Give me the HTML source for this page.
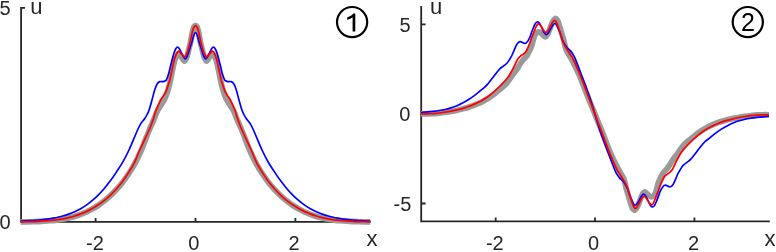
<!DOCTYPE html>
<html><head><meta charset="utf-8">
<style>
html,body{margin:0;padding:0;background:#fff;}
body{width:776px;height:252px;overflow:hidden;position:relative;font-family:"Liberation Sans",sans-serif;}
svg{position:absolute;left:0;top:0;will-change:transform;}
text{font-family:"Liberation Sans",sans-serif;fill:#262626;}
.t{font-size:20px;}
.l{font-size:22px;}
.c{font-size:25px;}
</style></head><body>
<svg width="776" height="252" viewBox="0 0 776 252">
<g stroke="#262626" stroke-width="1.8" fill="none" stroke-linecap="butt">
<path d="M21.1,7 V221.9 M20.2,221.9 H370.6"/>
<path d="M21.1,7.9 H25 M95.6,221.9 V218 M195.5,221.9 V218 M295.4,221.9 V218"/>
<path d="M421.2,6 V221.3 M420.3,221.3 H769.8"/>
<path d="M421.2,24.4 H425.6 M421.2,203.5 H425.6 M421.2,113.8 H425.6 M495.7,221.3 V217.4 M595,221.3 V217.4 M694.4,221.3 V217.4"/>
</g>
<g fill="none" stroke-linejoin="round" stroke-linecap="butt">
<path d="M20.7,221.8C21.7,221.8 24.7,221.8 26.7,221.8C28.7,221.7 30.7,221.7 32.7,221.7C34.7,221.6 36.7,221.6 38.7,221.5C40.7,221.4 42.7,221.3 44.7,221.2C46.7,221.1 48.7,220.9 50.7,220.7C52.7,220.6 54.7,220.4 56.7,220.1C58.7,219.9 60.7,219.6 62.7,219.2C64.7,218.9 66.7,218.5 68.7,218.0C70.7,217.5 72.7,217.0 74.7,216.4C76.7,215.8 78.7,215.2 80.7,214.4C82.7,213.6 84.7,212.8 86.7,211.9C88.7,210.9 90.7,209.9 92.7,208.8C94.7,207.6 96.7,206.4 98.7,205.0C100.7,203.7 102.7,202.2 104.7,200.6C106.7,199.0 108.7,197.3 110.7,195.4C112.7,193.5 114.7,191.5 116.7,189.3C118.7,187.1 120.7,184.8 122.7,182.2C124.7,179.6 126.7,176.9 128.7,173.8C130.7,170.7 132.6,167.8 134.7,163.9C136.8,159.9 139.0,155.6 141.4,150.0C143.8,144.4 147.2,135.0 149.3,130.0C151.4,125.0 152.3,123.3 153.7,120.0C155.1,116.7 156.1,113.3 157.8,110.0C159.6,106.7 162.5,103.3 164.2,100.0C165.9,96.7 166.9,93.3 168.0,90.0C169.1,86.7 169.8,83.3 170.5,80.0C171.2,76.7 171.8,73.2 172.5,70.0C173.2,66.8 173.9,63.3 174.6,61.0C175.3,58.7 175.9,57.2 176.6,56.0C177.3,54.8 178.2,53.8 179.0,54.0C179.8,54.2 180.6,55.8 181.5,57.0C182.4,58.2 183.6,61.1 184.5,61.0C185.4,60.9 186.3,58.5 187.0,56.5C187.7,54.5 188.3,51.4 188.9,49.0C189.5,46.6 190.0,45.0 190.6,42.0C191.2,39.0 192.1,33.6 192.7,31.0C193.3,28.4 193.7,27.4 194.2,26.5C194.7,25.6 195.1,25.3 195.5,25.3C195.9,25.3 196.3,25.6 196.8,26.5C197.3,27.4 197.7,28.4 198.3,31.0C198.9,33.6 199.8,39.0 200.4,42.0C201.0,45.0 201.5,46.6 202.1,49.0C202.7,51.4 203.3,54.5 204.0,56.5C204.7,58.5 205.6,60.9 206.5,61.0C207.4,61.1 208.6,58.2 209.5,57.0C210.4,55.8 211.2,54.2 212.0,54.0C212.8,53.8 213.7,54.8 214.4,56.0C215.1,57.2 215.7,58.7 216.4,61.0C217.1,63.3 217.8,66.8 218.5,70.0C219.2,73.2 219.8,76.7 220.5,80.0C221.2,83.3 221.9,86.7 223.0,90.0C224.1,93.3 225.1,96.7 226.8,100.0C228.5,103.3 231.4,106.7 233.2,110.0C234.9,113.3 235.9,116.7 237.3,120.0C238.7,123.3 239.6,125.0 241.7,130.0C243.8,135.0 247.2,144.4 249.6,150.0C252.0,155.6 254.2,159.9 256.3,163.9C258.4,167.8 260.3,170.7 262.3,173.8C264.3,176.9 266.3,179.6 268.3,182.2C270.3,184.8 272.3,187.1 274.3,189.3C276.3,191.5 278.3,193.5 280.3,195.4C282.3,197.3 284.3,199.0 286.3,200.6C288.3,202.2 290.3,203.7 292.3,205.0C294.3,206.4 296.3,207.6 298.3,208.8C300.3,209.9 302.3,210.9 304.3,211.9C306.3,212.8 308.3,213.6 310.3,214.4C312.3,215.2 314.3,215.8 316.3,216.4C318.3,217.0 320.3,217.5 322.3,218.0C324.3,218.5 326.3,218.9 328.3,219.2C330.3,219.6 332.3,219.9 334.3,220.1C336.3,220.4 338.3,220.6 340.3,220.7C342.3,220.9 344.3,221.1 346.3,221.2C348.3,221.3 350.3,221.4 352.3,221.5C354.3,221.6 356.3,221.6 358.3,221.7C360.3,221.7 362.3,221.7 364.3,221.8C366.3,221.8 369.3,221.8 370.3,221.8" stroke="#999999" stroke-width="5.8"/>
<path d="M20.7,221.1C21.7,221.1 24.7,221.0 26.7,220.9C28.7,220.8 30.7,220.6 32.7,220.5C34.7,220.4 36.7,220.2 38.7,220.0C40.7,219.8 42.7,219.6 44.7,219.4C46.7,219.2 48.7,218.9 50.7,218.6C52.7,218.2 54.7,217.9 56.7,217.5C58.7,217.0 60.7,216.6 62.7,216.0C64.7,215.5 66.7,214.9 68.7,214.1C70.7,213.4 72.7,212.6 74.7,211.7C76.7,210.8 78.7,209.8 80.7,208.7C82.7,207.6 84.7,206.3 86.7,204.9C88.7,203.5 90.7,202.0 92.7,200.2C94.7,198.5 96.7,196.7 98.7,194.6C100.7,192.6 102.7,190.4 104.7,188.0C106.7,185.6 108.7,183.0 110.7,180.3C112.7,177.6 114.7,174.7 116.7,171.6C118.7,168.6 120.7,165.8 122.7,162.2C124.8,158.6 126.5,155.4 129.0,150.0C131.5,144.6 135.6,134.4 137.6,130.0C139.5,125.6 139.7,125.4 140.9,123.5C142.1,121.6 143.5,120.3 144.6,118.7C145.7,117.1 146.7,115.5 147.4,114.0C148.2,112.5 148.3,112.3 149.1,110.0C149.9,107.7 151.1,103.3 152.0,100.0C152.9,96.7 153.8,92.7 154.7,90.0C155.5,87.3 156.2,85.4 157.1,84.0C157.9,82.6 158.8,82.0 159.8,81.6C160.8,81.2 162.1,81.8 163.0,81.7C163.9,81.6 164.8,81.2 165.4,80.8C166.0,80.4 165.9,80.8 166.5,79.6C167.1,78.4 168.1,75.6 168.7,73.5C169.3,71.4 169.7,69.2 170.2,67.1C170.7,65.0 171.2,63.4 171.8,61.0C172.4,58.6 173.3,55.0 174.0,53.0C174.7,51.0 175.2,49.8 175.8,48.8C176.4,47.8 176.9,47.2 177.5,47.2C178.1,47.2 178.8,47.9 179.5,49.0C180.2,50.1 181.1,52.4 182.0,54.0C182.9,55.6 184.2,58.6 185.2,58.8C186.1,59.0 187.0,56.6 187.7,55.0C188.4,53.4 188.9,51.2 189.6,49.0C190.3,46.8 191.2,44.3 191.9,42.0C192.6,39.7 193.2,36.9 193.8,35.3C194.4,33.7 194.9,32.5 195.5,32.5C196.1,32.5 196.6,33.7 197.2,35.3C197.8,36.9 198.4,39.7 199.1,42.0C199.8,44.3 200.7,46.8 201.4,49.0C202.1,51.2 202.6,53.4 203.3,55.0C204.0,56.6 204.9,59.0 205.8,58.8C206.8,58.6 208.1,55.6 209.0,54.0C209.9,52.4 210.8,50.1 211.5,49.0C212.2,47.9 212.9,47.2 213.5,47.2C214.1,47.2 214.6,47.8 215.2,48.8C215.8,49.8 216.3,51.0 217.0,53.0C217.7,55.0 218.6,58.6 219.2,61.0C219.8,63.4 220.3,65.0 220.8,67.1C221.3,69.2 221.7,71.4 222.3,73.5C222.9,75.6 223.9,78.4 224.5,79.6C225.1,80.8 225.0,80.4 225.6,80.8C226.2,81.2 227.1,81.6 228.0,81.7C228.9,81.8 230.2,81.2 231.2,81.6C232.2,82.0 233.1,82.6 233.9,84.0C234.8,85.4 235.5,87.3 236.3,90.0C237.2,92.7 238.1,96.7 239.0,100.0C239.9,103.3 241.1,107.7 241.9,110.0C242.7,112.3 242.8,112.5 243.6,114.0C244.3,115.5 245.3,117.1 246.4,118.7C247.5,120.3 248.9,121.6 250.1,123.5C251.3,125.4 251.5,125.6 253.4,130.0C255.4,134.4 259.5,144.6 262.0,150.0C264.5,155.4 266.2,158.6 268.3,162.2C270.4,165.8 272.3,168.6 274.3,171.6C276.3,174.7 278.3,177.6 280.3,180.3C282.3,183.0 284.3,185.6 286.3,188.0C288.3,190.4 290.3,192.6 292.3,194.6C294.3,196.7 296.3,198.5 298.3,200.2C300.3,202.0 302.3,203.5 304.3,204.9C306.3,206.3 308.3,207.6 310.3,208.7C312.3,209.8 314.3,210.8 316.3,211.7C318.3,212.6 320.3,213.4 322.3,214.1C324.3,214.9 326.3,215.5 328.3,216.0C330.3,216.6 332.3,217.0 334.3,217.5C336.3,217.9 338.3,218.2 340.3,218.6C342.3,218.9 344.3,219.2 346.3,219.4C348.3,219.6 350.3,219.8 352.3,220.0C354.3,220.2 356.3,220.4 358.3,220.5C360.3,220.6 362.3,220.8 364.3,220.9C366.3,221.0 369.3,221.1 370.3,221.1" stroke="#0000ff" stroke-width="1.7"/>
<path d="M20.7,221.8C21.7,221.8 24.7,221.7 26.7,221.7C28.7,221.6 30.7,221.6 32.7,221.5C34.7,221.5 36.7,221.4 38.7,221.3C40.7,221.2 42.7,221.1 44.7,220.9C46.7,220.8 48.7,220.6 50.7,220.5C52.7,220.3 54.7,220.0 56.7,219.8C58.7,219.5 60.7,219.2 62.7,218.8C64.7,218.5 66.7,218.0 68.7,217.6C70.7,217.1 72.7,216.6 74.7,216.0C76.7,215.4 78.7,214.7 80.7,213.9C82.7,213.2 84.7,212.3 86.7,211.4C88.7,210.5 90.7,209.4 92.7,208.3C94.7,207.2 96.7,205.9 98.7,204.6C100.7,203.2 102.7,201.7 104.7,200.1C106.7,198.5 108.7,196.7 110.7,194.8C112.7,192.9 114.7,190.8 116.7,188.5C118.7,186.3 120.7,183.8 122.7,181.2C124.7,178.5 126.7,175.6 128.7,172.4C130.7,169.2 132.9,165.8 134.7,162.1C136.5,158.3 137.4,155.3 139.8,150.0C142.1,144.7 146.8,135.0 149.1,130.0C151.3,125.0 151.8,123.3 153.0,120.0C154.2,116.7 154.9,113.3 156.2,110.0C157.5,106.7 159.1,102.9 160.6,100.0C162.1,97.1 164.2,95.0 165.4,92.7C166.6,90.4 167.1,88.4 167.8,86.3C168.5,84.2 169.1,82.7 169.8,80.0C170.5,77.3 171.3,73.3 172.0,70.0C172.7,66.7 173.5,62.6 174.2,60.0C174.9,57.4 175.5,55.8 176.2,54.3C176.9,52.8 177.6,51.3 178.4,51.1C179.2,50.9 180.0,52.3 181.0,53.3C182.0,54.3 183.5,57.1 184.6,56.9C185.7,56.7 186.6,53.9 187.3,52.3C188.0,50.7 188.3,49.2 188.8,47.5C189.3,45.8 189.5,44.8 190.2,42.0C190.8,39.2 192.0,33.1 192.7,30.6C193.4,28.1 193.7,27.6 194.2,26.8C194.7,26.0 195.1,25.7 195.5,25.7C195.9,25.7 196.3,26.0 196.8,26.8C197.3,27.6 197.6,28.1 198.3,30.6C199.0,33.1 200.2,39.2 200.8,42.0C201.5,44.8 201.7,45.8 202.2,47.5C202.7,49.2 203.0,50.7 203.7,52.3C204.4,53.9 205.3,56.7 206.4,56.9C207.5,57.1 209.0,54.3 210.0,53.3C211.0,52.3 211.8,50.9 212.6,51.1C213.4,51.3 214.1,52.8 214.8,54.3C215.5,55.8 216.1,57.4 216.8,60.0C217.5,62.6 218.3,66.7 219.0,70.0C219.7,73.3 220.5,77.3 221.2,80.0C221.9,82.7 222.5,84.2 223.2,86.3C223.9,88.4 224.4,90.4 225.6,92.7C226.8,95.0 228.9,97.1 230.4,100.0C231.9,102.9 233.5,106.7 234.8,110.0C236.1,113.3 236.8,116.7 238.0,120.0C239.2,123.3 239.7,125.0 241.9,130.0C244.2,135.0 248.9,144.7 251.2,150.0C253.6,155.3 254.5,158.3 256.3,162.1C258.1,165.8 260.3,169.2 262.3,172.4C264.3,175.6 266.3,178.5 268.3,181.2C270.3,183.8 272.3,186.3 274.3,188.5C276.3,190.8 278.3,192.9 280.3,194.8C282.3,196.7 284.3,198.5 286.3,200.1C288.3,201.7 290.3,203.2 292.3,204.6C294.3,205.9 296.3,207.2 298.3,208.3C300.3,209.4 302.3,210.5 304.3,211.4C306.3,212.3 308.3,213.2 310.3,213.9C312.3,214.7 314.3,215.4 316.3,216.0C318.3,216.6 320.3,217.1 322.3,217.6C324.3,218.0 326.3,218.5 328.3,218.8C330.3,219.2 332.3,219.5 334.3,219.8C336.3,220.0 338.3,220.3 340.3,220.5C342.3,220.6 344.3,220.8 346.3,220.9C348.3,221.1 350.3,221.2 352.3,221.3C354.3,221.4 356.3,221.5 358.3,221.5C360.3,221.6 362.3,221.6 364.3,221.7C366.3,221.7 369.3,221.8 370.3,221.8" stroke="#ff0000" stroke-width="1.75"/>
<path d="M421.0,113.9C422.0,113.9 425.0,114.0 427.0,113.9C429.0,113.9 431.0,113.8 433.0,113.7C435.0,113.5 437.0,113.4 439.0,113.1C441.0,112.9 443.0,112.7 445.0,112.4C447.0,112.1 449.0,111.8 451.0,111.4C453.0,111.1 455.0,110.7 457.0,110.3C459.0,109.8 461.0,109.3 463.0,108.8C465.0,108.3 467.0,107.7 469.0,107.1C471.0,106.4 473.0,105.7 475.0,104.9C477.0,104.1 479.0,103.2 481.0,102.3C483.0,101.3 485.0,100.2 487.0,99.0C489.0,97.8 491.0,96.5 493.0,95.0C495.0,93.5 496.8,91.9 499.0,90.0C501.2,88.1 503.9,86.3 506.2,83.8C508.4,81.3 510.8,77.3 512.5,75.0C514.2,72.7 515.1,71.8 516.4,70.0C517.7,68.2 519.0,65.7 520.1,64.0C521.2,62.3 521.9,61.4 523.0,60.0C524.1,58.6 525.6,57.5 526.8,55.8C527.9,54.1 529.1,51.6 529.9,50.0C530.7,48.4 531.1,47.5 531.6,46.0C532.1,44.5 532.5,42.7 533.0,41.0C533.5,39.3 533.9,37.3 534.4,36.0C534.9,34.7 535.6,33.7 536.3,33.0C537.0,32.3 537.6,31.8 538.4,31.8C539.1,31.8 540.0,32.3 540.8,32.8C541.6,33.3 542.3,34.3 543.0,35.0C543.7,35.7 544.5,36.9 545.2,36.8C546.0,36.7 546.7,35.9 547.5,34.5C548.3,33.1 549.2,30.6 550.0,28.5C550.8,26.4 551.6,23.7 552.5,22.0C553.4,20.3 554.5,18.8 555.3,18.5C556.1,18.2 556.7,19.1 557.3,20.0C557.9,20.9 558.0,21.7 558.8,24.0C559.6,26.3 561.1,31.3 561.9,34.0C562.7,36.7 563.0,37.3 563.7,40.0C564.4,42.7 564.9,46.7 566.3,50.0C567.6,53.3 569.6,55.5 571.8,59.8C574.0,64.1 577.1,70.0 579.7,76.0C582.3,82.0 584.9,89.4 587.4,95.8C589.9,102.2 592.5,108.2 595.0,114.3C597.5,120.5 600.1,126.5 602.6,132.9C605.1,139.3 607.7,146.7 610.3,152.7C612.9,158.7 616.0,164.6 618.2,168.9C620.4,173.2 622.4,175.4 623.7,178.7C625.1,182.0 625.6,186.0 626.3,188.7C627.0,191.4 627.3,192.0 628.1,194.7C628.9,197.4 630.4,202.4 631.2,204.7C632.0,207.0 632.1,207.8 632.7,208.7C633.3,209.6 633.9,210.5 634.7,210.2C635.5,209.9 636.6,208.4 637.5,206.7C638.4,205.0 639.2,202.3 640.0,200.2C640.8,198.1 641.7,195.6 642.5,194.2C643.3,192.8 644.0,192.0 644.8,191.9C645.5,191.8 646.3,193.0 647.0,193.7C647.7,194.4 648.4,195.4 649.2,195.9C650.0,196.4 650.9,196.9 651.6,196.9C652.4,196.9 653.0,196.4 653.7,195.7C654.4,195.0 655.1,194.0 655.6,192.7C656.1,191.4 656.5,189.4 657.0,187.7C657.5,186.0 657.9,184.2 658.4,182.7C658.9,181.2 659.3,180.3 660.1,178.7C660.9,177.1 662.1,174.6 663.2,172.9C664.4,171.2 665.9,170.1 667.0,168.7C668.1,167.3 668.8,166.4 669.9,164.7C671.0,163.0 672.3,160.5 673.6,158.7C674.9,156.9 675.8,156.0 677.5,153.7C679.2,151.4 681.5,147.4 683.8,144.9C686.0,142.4 688.8,140.6 691.0,138.7C693.2,136.8 695.0,135.2 697.0,133.7C699.0,132.2 701.0,130.9 703.0,129.7C705.0,128.5 707.0,127.4 709.0,126.4C711.0,125.5 713.0,124.6 715.0,123.8C717.0,123.0 719.0,122.3 721.0,121.6C723.0,121.0 725.0,120.4 727.0,119.9C729.0,119.4 731.0,118.9 733.0,118.4C735.0,118.0 737.0,117.6 739.0,117.3C741.0,116.9 743.0,116.6 745.0,116.3C747.0,116.0 749.0,115.8 751.0,115.6C753.0,115.3 755.0,115.2 757.0,115.0C759.0,114.9 761.0,114.8 763.0,114.8C765.0,114.7 768.0,114.8 769.0,114.8" stroke="#999999" stroke-width="5.8"/>
<path d="M421.0,112.6C422.0,112.5 425.0,112.1 427.0,111.9C429.0,111.7 431.0,111.5 433.0,111.3C435.0,111.1 437.0,110.9 439.0,110.5C441.0,110.2 443.0,109.9 445.0,109.5C447.0,109.0 449.0,108.5 451.0,107.9C453.0,107.3 455.0,106.5 457.0,105.7C459.0,104.9 461.0,103.9 463.0,102.8C465.0,101.8 467.0,100.6 469.0,99.3C471.0,98.0 473.0,96.6 475.0,95.1C477.0,93.6 479.0,91.9 481.0,90.2C483.0,88.6 484.0,88.3 487.0,84.9C490.0,81.5 496.3,72.9 499.0,69.8C501.7,66.7 501.7,67.5 503.0,66.4C504.3,65.4 505.7,64.4 506.6,63.5C507.5,62.6 507.8,62.2 508.5,61.1C509.2,60.0 510.4,58.0 510.9,57.1C511.4,56.2 511.4,56.4 511.7,55.8C512.0,55.1 512.5,54.1 512.9,53.2C513.3,52.3 513.4,51.8 514.1,50.3C514.8,48.8 515.9,45.7 516.9,44.3C517.9,42.9 518.8,41.8 520.1,41.7C521.4,41.6 523.5,43.6 524.8,43.5C526.1,43.4 527.1,42.0 528.0,40.8C528.9,39.5 529.9,37.2 530.4,36.0C530.9,34.8 530.6,35.2 531.1,33.8C531.6,32.4 532.8,29.2 533.5,27.5C534.2,25.8 534.8,24.2 535.5,23.3C536.2,22.4 536.8,21.8 537.5,21.8C538.2,21.8 538.8,22.3 539.5,23.3C540.2,24.3 541.2,26.5 542.0,28.0C542.8,29.5 543.3,31.2 544.0,32.3C544.7,33.4 545.5,34.6 546.2,34.7C547.0,34.8 547.7,33.9 548.5,32.8C549.3,31.7 550.2,29.3 551.0,28.0C551.8,26.7 552.4,25.8 553.0,25.0C553.6,24.2 554.3,23.5 554.9,23.5C555.5,23.5 556.0,24.2 556.5,25.0C557.0,25.8 557.3,26.5 558.0,28.0C558.7,29.5 559.9,32.2 560.6,34.2C561.4,36.2 561.8,38.3 562.5,40.0C563.2,41.7 564.1,43.2 564.9,44.5C565.7,45.8 566.2,46.7 567.1,47.7C568.0,48.7 569.3,49.5 570.3,50.6C571.3,51.8 572.3,53.2 573.1,54.6C573.9,56.0 573.7,55.1 575.2,58.7C576.7,62.4 579.7,70.3 582.0,76.5C584.3,82.7 587.0,89.5 589.2,95.8C591.4,102.1 593.1,108.2 595.0,114.3C596.9,120.5 598.6,126.6 600.8,132.9C603.0,139.2 605.7,146.0 608.0,152.2C610.3,158.4 613.3,166.3 614.8,170.0C616.3,173.7 616.1,172.8 616.9,174.1C617.7,175.4 618.7,176.9 619.7,178.1C620.7,179.2 622.0,180.0 622.9,181.0C623.8,182.0 624.3,182.9 625.1,184.2C625.9,185.5 626.8,187.0 627.5,188.7C628.2,190.4 628.6,192.5 629.4,194.5C630.1,196.5 631.3,199.2 632.0,200.7C632.7,202.2 633.0,202.9 633.5,203.7C634.0,204.4 634.5,205.2 635.1,205.2C635.7,205.2 636.4,204.4 637.0,203.7C637.6,202.9 638.2,202.0 639.0,200.7C639.8,199.4 640.7,197.0 641.5,195.9C642.3,194.8 643.0,193.9 643.8,194.0C644.5,194.1 645.3,195.3 646.0,196.4C646.7,197.5 647.2,199.2 648.0,200.7C648.8,202.2 649.8,204.4 650.5,205.4C651.2,206.4 651.8,206.9 652.5,206.9C653.2,206.9 653.8,206.3 654.5,205.4C655.2,204.4 655.8,202.9 656.5,201.2C657.2,199.4 658.4,196.3 658.9,194.9C659.4,193.5 659.1,193.9 659.6,192.7C660.1,191.5 661.1,189.1 662.0,187.9C662.9,186.6 663.9,185.3 665.2,185.2C666.5,185.0 668.6,187.1 669.9,187.0C671.2,186.9 672.1,185.8 673.1,184.4C674.1,183.0 675.2,179.9 675.9,178.4C676.6,176.9 676.7,176.4 677.1,175.5C677.5,174.6 678.0,173.5 678.3,172.9C678.6,172.2 678.6,172.5 679.1,171.6C679.6,170.7 680.8,168.7 681.5,167.6C682.2,166.5 682.5,166.1 683.4,165.2C684.3,164.3 685.7,163.3 687.0,162.3C688.3,161.2 688.3,162.0 691.0,158.9C693.7,155.8 700.0,147.2 703.0,143.8C706.0,140.4 707.0,140.1 709.0,138.5C711.0,136.8 713.0,135.1 715.0,133.6C717.0,132.1 719.0,130.7 721.0,129.4C723.0,128.1 725.0,126.9 727.0,125.9C729.0,124.8 731.0,123.8 733.0,123.0C735.0,122.2 737.0,121.4 739.0,120.8C741.0,120.2 743.0,119.7 745.0,119.2C747.0,118.8 749.0,118.5 751.0,118.2C753.0,117.8 755.0,117.6 757.0,117.4C759.0,117.2 761.0,117.0 763.0,116.8C765.0,116.6 768.0,116.2 769.0,116.1" stroke="#0000ff" stroke-width="1.7"/>
<path d="M421.0,113.9C422.0,113.9 425.0,113.9 427.0,113.9C429.0,113.8 431.0,113.7 433.0,113.6C435.0,113.4 437.0,113.2 439.0,113.0C441.0,112.8 443.0,112.5 445.0,112.2C447.0,111.9 449.0,111.6 451.0,111.2C453.0,110.8 455.0,110.4 457.0,109.9C459.0,109.4 461.0,108.9 463.0,108.3C465.0,107.7 467.0,107.1 469.0,106.3C471.0,105.6 473.0,104.8 475.0,103.9C477.0,103.0 479.0,102.0 481.0,100.9C483.0,99.8 485.0,98.6 487.0,97.2C489.0,95.8 491.0,94.3 493.0,92.6C495.0,90.9 496.5,89.5 499.0,87.0C501.5,84.5 505.7,80.1 507.8,77.5C509.9,74.9 510.5,73.2 511.7,71.1C512.9,69.0 513.8,67.2 514.8,65.1C515.8,63.0 516.9,60.3 518.0,58.7C519.1,57.1 520.0,56.6 521.2,55.5C522.4,54.4 524.1,54.0 525.4,52.3C526.7,50.6 527.9,47.5 528.8,45.5C529.7,43.5 530.1,42.1 530.7,40.5C531.3,38.9 531.9,37.2 532.4,36.0C532.9,34.8 533.1,34.3 533.6,33.0C534.1,31.7 534.9,29.4 535.5,28.0C536.1,26.6 536.5,25.6 537.0,24.9C537.5,24.2 537.8,23.8 538.4,23.9C539.0,24.0 539.7,24.6 540.5,25.5C541.3,26.4 542.1,28.3 543.0,29.5C543.9,30.7 545.0,32.5 545.9,32.6C546.8,32.7 547.6,31.3 548.5,30.0C549.4,28.7 550.2,26.4 551.0,25.0C551.8,23.6 552.4,22.3 553.0,21.5C553.6,20.7 554.1,20.3 554.6,20.3C555.1,20.3 555.6,20.9 556.0,21.5C556.4,22.1 556.3,21.9 557.1,24.0C557.9,26.1 559.7,31.3 560.6,34.0C561.5,36.7 561.6,38.1 562.3,40.0C563.0,41.9 563.8,43.8 564.7,45.6C565.6,47.4 566.9,49.0 567.9,50.7C568.9,52.4 570.1,54.5 571.0,55.9C571.9,57.3 571.6,55.9 573.2,59.3C574.8,62.6 578.0,69.9 580.5,76.0C583.0,82.1 585.6,89.4 588.0,95.8C590.4,102.2 592.7,108.2 595.0,114.3C597.3,120.5 599.6,126.5 602.0,132.9C604.4,139.3 607.0,146.6 609.5,152.7C612.0,158.8 615.2,166.0 616.8,169.4C618.4,172.7 618.1,171.4 619.0,172.8C619.9,174.2 621.1,176.3 622.1,178.0C623.1,179.7 624.4,181.3 625.3,183.1C626.2,184.9 627.0,186.8 627.7,188.7C628.4,190.6 628.5,192.0 629.4,194.7C630.3,197.4 632.1,202.6 632.9,204.7C633.7,206.8 633.6,206.6 634.0,207.2C634.4,207.8 634.9,208.4 635.4,208.4C635.9,208.4 636.4,208.0 637.0,207.2C637.6,206.4 638.2,205.1 639.0,203.7C639.8,202.3 640.6,200.0 641.5,198.7C642.4,197.4 643.2,196.0 644.1,196.1C645.0,196.2 646.1,198.0 647.0,199.2C647.9,200.4 648.7,202.3 649.5,203.2C650.3,204.1 651.0,204.7 651.6,204.8C652.2,204.9 652.5,204.5 653.0,203.8C653.5,203.1 653.9,202.0 654.5,200.7C655.1,199.3 655.9,197.0 656.4,195.7C656.9,194.4 657.1,193.9 657.6,192.7C658.1,191.4 658.7,189.8 659.3,188.2C659.9,186.6 660.3,185.2 661.2,183.2C662.1,181.2 663.3,178.1 664.6,176.4C665.9,174.7 667.6,174.3 668.8,173.2C670.0,172.1 670.9,171.6 672.0,170.0C673.1,168.4 674.2,165.7 675.2,163.6C676.2,161.5 677.1,159.7 678.3,157.6C679.5,155.5 680.1,153.8 682.2,151.2C684.3,148.6 688.5,144.2 691.0,141.7C693.5,139.2 695.0,137.8 697.0,136.1C699.0,134.4 701.0,132.9 703.0,131.5C705.0,130.1 707.0,128.9 709.0,127.8C711.0,126.7 713.0,125.7 715.0,124.8C717.0,123.9 719.0,123.1 721.0,122.4C723.0,121.6 725.0,121.0 727.0,120.4C729.0,119.8 731.0,119.3 733.0,118.8C735.0,118.3 737.0,117.9 739.0,117.5C741.0,117.1 743.0,116.8 745.0,116.5C747.0,116.2 749.0,115.9 751.0,115.7C753.0,115.5 755.0,115.3 757.0,115.1C759.0,115.0 761.0,114.9 763.0,114.8C765.0,114.8 768.0,114.8 769.0,114.8" stroke="#ff0000" stroke-width="1.75"/>
</g>
<text class="t" x="10.6" y="15.3" text-anchor="end">5</text>
<text class="t" x="10.6" y="229" text-anchor="end">0</text>
<text class="t" x="95.0" y="249.9" text-anchor="middle">-2</text>
<text class="t" x="193.9" y="250.0" text-anchor="middle">0</text>
<text class="t" x="294.0" y="249.9" text-anchor="middle">2</text>
<text class="l" x="30.3" y="14.1">u</text>
<text class="l" x="366.5" y="245.6">x</text>
<text class="t" x="410.5" y="32.0" text-anchor="end">5</text>
<text class="t" x="410.4" y="121.4" text-anchor="end">0</text>
<text class="t" x="411.3" y="210.7" text-anchor="end">-5</text>
<text class="t" x="494.8" y="249.7" text-anchor="middle">-2</text>
<text class="t" x="593.6" y="249.7" text-anchor="middle">0</text>
<text class="t" x="693.5" y="249.7" text-anchor="middle">2</text>
<text class="l" x="430" y="14.1">u</text>
<text class="l" x="764.5" y="245.6">x</text>
<g fill="none" stroke="#000" stroke-width="2.2">
<circle cx="352.1" cy="22.1" r="15.1"/>
<circle cx="747.8" cy="22.1" r="15.1"/>
</g>
<path d="M353.3,13.6 H355.3 V31.4 H352.6 V17.3 C351.3,18.3 349.6,19.2 347.2,19.9 V17.4 C349.9,16.5 352.2,15.3 353.3,13.6 Z" fill="#000"/>
<text class="c" x="747.9" y="31.4" text-anchor="middle" style="fill:#000">2</text>
</svg>
</body></html>
